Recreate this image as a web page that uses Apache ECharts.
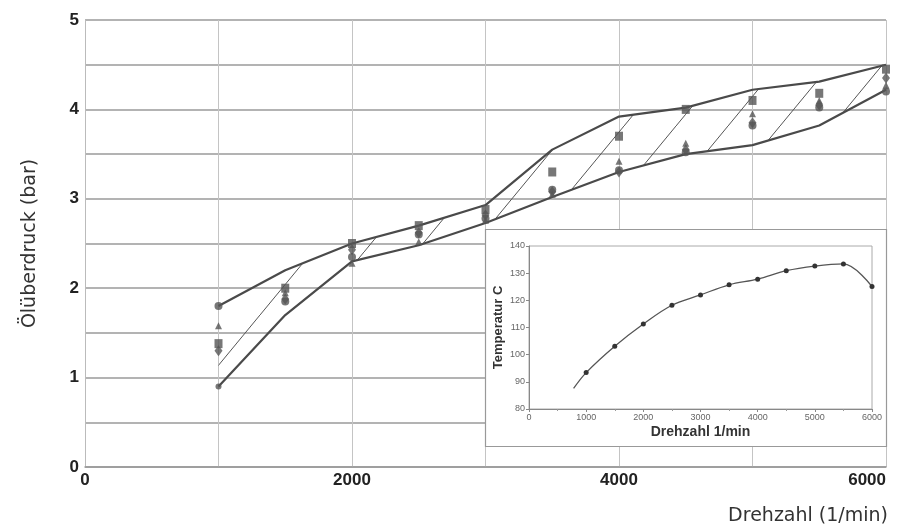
<!DOCTYPE html>
<html>
<head>
<meta charset="utf-8">
<script src="https://cdn.jsdelivr.net/npm/echarts@6/dist/echarts.min.js"></script>
<style>html,body{margin:0;padding:0;background:#fff}#c{width:907px;height:530px}</style>
</head>
<body>
<div id="c"></div>
<script>
// ---------- main chart data ----------
const rpm = [1000, 1500, 2000, 2500, 3000, 3500, 4000, 4500, 5000, 5500, 6000];
const upperBound = [1.80, 2.20, 2.50, 2.70, 2.93, 3.55, 3.92, 4.02, 4.22, 4.31, 4.50];
const lowerBound = [0.90, 1.70, 2.30, 2.48, 2.73, 3.02, 3.30, 3.50, 3.60, 3.82, 4.22];
const pSquare   = [1.38, 2.00, 2.50, 2.70, 2.88, 3.30, 3.70, 4.00, 4.10, 4.18, 4.45];
const pDiamond  = [1.30, 1.88, 2.43, 2.62, 2.82, 3.08, 3.30, 3.55, 3.85, 4.05, 4.35];
const pTriangle = [1.58, 1.95, 2.28, 2.52, 2.76, 3.05, 3.42, 3.62, 3.95, 4.10, 4.27];
const pCircle   = [1.80, 1.85, 2.35, 2.60, 2.78, 3.10, 3.32, 3.52, 3.82, 4.02, 4.20];
const xLabelValues = [0, 2000, 4000, 6000];
const yLabelValues = [0, 1, 2, 3, 4, 5];

// ---------- inset data ----------
const tempRpm = [1000, 1500, 2000, 2500, 3000, 3500, 4000, 4500, 5000, 5500, 6000];
const tempVal = [93.4, 103.1, 111.3, 118.2, 122.0, 125.7, 127.8, 130.9, 132.6, 133.4, 125.1];
const curveStartRpm = 780;
const curveStartTemp = 87.6;

// hatch pattern
function makeHatch() {
  const w = 52, h = 63;
  const cv = document.createElement('canvas');
  cv.width = w; cv.height = h;
  const ctx = cv.getContext('2d');
  ctx.strokeStyle = '#555';
  ctx.lineWidth = 1;
  ctx.beginPath();
  ctx.moveTo(-2, h + 2 * h / w);
  ctx.lineTo(w + 2, -2 * h / w);
  ctx.stroke();
  return cv;
}
const hatch = makeHatch();

const zip = (xs, ys) => xs.map((x, i) => [x, ys[i]]);
// band segments: [x0, lower0, upper0, x1, lower1, upper1]
const bandSegments = rpm.slice(0, -1).map((x, i) =>
  [x, lowerBound[i], upperBound[i], rpm[i + 1], lowerBound[i + 1], upperBound[i + 1]]);

const chart = echarts.init(document.getElementById('c'));
const markColor = '#555';

chart.setOption({
  animation: false,
  backgroundColor: '#fff',
  grid: [
    { left: 85, right: 21, top: 20, bottom: 63 },
    { left: 529, right: 35, top: 246, bottom: 121, show: true, borderColor: '#aaa', borderWidth: 1, z: 11 }
  ],
  graphic: {
    z: 10,
    elements: [{
      type: 'rect',
      shape: { x: 485.5, y: 229.5, width: 401, height: 217 },
      style: { fill: '#fff', stroke: '#999', lineWidth: 1.2 },
      z: 10
    }]
  },
  xAxis: [{
    type: 'value', gridIndex: 0, min: 0, max: 6000, interval: 1000,
    name: 'Drehzahl (1/min)', nameLocation: 'end', nameGap: 2,
    nameTextStyle: { fontFamily: 'DejaVu Sans', fontSize: 19, color: '#333', align: 'right', verticalAlign: 'top', padding: [40, 0, 0, 0] },
    axisLine: { show: true, lineStyle: { color: '#999', width: 1.5 } },
    axisTick: { show: false },
    splitLine: { show: true, lineStyle: { color: '#c4c4c4', width: 1 } },
    axisLabel: {
      margin: 5, fontFamily: 'Liberation Sans', fontWeight: 'bold', fontSize: 17, color: '#222',
      alignMaxLabel: 'right',
      formatter: v => xLabelValues.includes(v) ? String(v) : ''
    }
  }, {
    type: 'value', gridIndex: 1, min: 0, max: 6000, interval: 1000, z: 11,
    name: 'Drehzahl 1/min', nameLocation: 'middle', nameGap: 16,
    nameTextStyle: { fontFamily: 'Liberation Sans', fontWeight: 'bold', fontSize: 14, color: '#333' },
    axisLine: { show: true, lineStyle: { color: '#888' } },
    axisTick: { show: true, length: 3, lineStyle: { color: '#888' } },
    minorTick: { show: true, splitNumber: 2, length: 2, lineStyle: { color: '#999' } },
    splitLine: { show: false },
    axisLabel: { margin: 4, fontFamily: 'Liberation Sans', fontSize: 9, color: '#666', formatter: v => String(v) }
  }],
  yAxis: [{
    type: 'value', gridIndex: 0, min: 0, max: 5, interval: 0.5,
    name: 'Ölüberdruck (bar)', nameLocation: 'middle', nameGap: 45,
    nameTextStyle: { fontFamily: 'DejaVu Sans', fontSize: 19, color: '#333' },
    axisLine: { show: true, lineStyle: { color: '#bbb' } },
    axisTick: { show: false },
    splitLine: { show: true, lineStyle: { color: '#9a9a9a', width: 1.5 } },
    axisLabel: {
      margin: 6, fontFamily: 'Liberation Sans', fontWeight: 'bold', fontSize: 17, color: '#222',
      formatter: v => yLabelValues.includes(v) ? String(v) : ''
    }
  }, {
    type: 'value', gridIndex: 1, min: 80, max: 140, interval: 10, z: 11,
    name: 'Temperatur C', nameLocation: 'middle', nameGap: 24,
    nameTextStyle: { fontFamily: 'Liberation Sans', fontWeight: 'bold', fontSize: 13, color: '#333' },
    axisLine: { show: true, lineStyle: { color: '#888' } },
    axisTick: { show: true, length: 3, lineStyle: { color: '#888' } },
    splitLine: { show: false },
    axisLabel: { margin: 4, fontFamily: 'Liberation Sans', fontSize: 9, color: '#666', formatter: v => String(v) }
  }],
  series: [
    {
      name: 'Streubereich', type: 'custom', xAxisIndex: 0, yAxisIndex: 0,
      data: bandSegments,
      encode: { x: [0, 3], y: [1, 2, 4, 5] },
      renderItem: (params, api) => {
        const a = api.coord([api.value(0), api.value(1)]);
        const b = api.coord([api.value(0), api.value(2)]);
        const c = api.coord([api.value(3), api.value(5)]);
        const d = api.coord([api.value(3), api.value(4)]);
        return {
          type: 'polygon',
          shape: { points: [a, b, c, d] },
          style: { fill: { image: hatch, repeat: 'repeat' }, stroke: null }
        };
      },
      z: 2
    },
    {
      name: 'Untergrenze', type: 'line', xAxisIndex: 0, yAxisIndex: 0,
      data: zip(rpm, lowerBound), symbol: 'none',
      lineStyle: { color: '#4a4a4a', width: 2.2 }, z: 3
    },
    {
      name: 'Obergrenze', type: 'line', xAxisIndex: 0, yAxisIndex: 0,
      data: zip(rpm, upperBound), symbol: 'none',
      lineStyle: { color: '#4a4a4a', width: 2.2 }, z: 3
    },
    {
      name: 'Messung 1', type: 'scatter', xAxisIndex: 0, yAxisIndex: 0,
      data: zip(rpm, pSquare), symbol: 'rect', symbolSize: [8, 9],
      itemStyle: { color: markColor }, z: 4
    },
    {
      name: 'Messung 2', type: 'scatter', xAxisIndex: 0, yAxisIndex: 0,
      data: zip(rpm, pDiamond), symbol: 'diamond', symbolSize: [8, 11],
      itemStyle: { color: markColor }, z: 4
    },
    {
      name: 'Messung 3', type: 'scatter', xAxisIndex: 0, yAxisIndex: 0,
      data: zip(rpm, pTriangle), symbol: 'triangle', symbolSize: 7,
      itemStyle: { color: markColor }, z: 4
    },
    {
      name: 'Messung 4', type: 'scatter', xAxisIndex: 0, yAxisIndex: 0,
      data: zip(rpm, pCircle), symbol: 'circle', symbolSize: 8,
      itemStyle: { color: markColor }, z: 4
    },
    {
      name: 'Untergrenze Punkt', type: 'scatter', xAxisIndex: 0, yAxisIndex: 0,
      data: [[rpm[0], lowerBound[0]]], symbol: 'circle', symbolSize: 6,
      itemStyle: { color: markColor }, z: 4
    },
    {
      name: 'Temperatur', type: 'line', xAxisIndex: 1, yAxisIndex: 1, smooth: 0.35,
      data: [{ value: [curveStartRpm, curveStartTemp], symbol: 'none' }].concat(zip(tempRpm, tempVal)),
      symbol: 'circle', symbolSize: 5, showSymbol: true,
      lineStyle: { color: '#555', width: 1.3 },
      itemStyle: { color: '#333' }, z: 12
    }
  ]
});
</script>
</body>
</html>
